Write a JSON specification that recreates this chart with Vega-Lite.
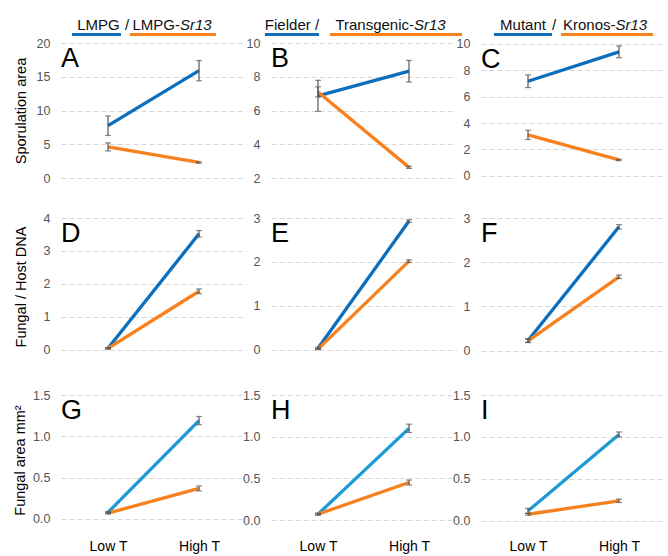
{
  "$schema": "https://vega.github.io/schema/vega-lite/v6.json",
  "padding": {"left": 12, "top": 18, "right": 2, "bottom": 2},
  "config": {
    "font": "Liberation Sans",
    "view": {"stroke": null},
    "axis": {"domain": false, "ticks": false, "tickSize": 0, "gridDash": [5, 3], "gridColor": "#d6d6d6", "labelColor": "#555555", "labelFontSize": 12.5, "labelPadding": 11, "titleFontSize": 14.5, "titleFontWeight": "normal", "titleColor": "#000000"},
    "title": {"fontSize": 27, "fontWeight": "normal", "anchor": "start", "frame": "group", "color": "#000000", "offset": -36, "baseline": "alphabetic"}
  },
  "datasets": {
    "d": [
      {"panel": "A", "group": "wt", "temp": "Low T", "mean": 7.75, "err": 1.45},
      {"panel": "A", "group": "wt", "temp": "High T", "mean": 15.9, "err": 1.5},
      {"panel": "A", "group": "mut", "temp": "Low T", "mean": 4.6, "err": 0.6},
      {"panel": "A", "group": "mut", "temp": "High T", "mean": 2.3, "err": 0.1},
      {"panel": "B", "group": "wt", "temp": "Low T", "mean": 6.87, "err": 0.92},
      {"panel": "B", "group": "wt", "temp": "High T", "mean": 8.33, "err": 0.64},
      {"panel": "B", "group": "mut", "temp": "Low T", "mean": 7.1, "err": 0.3},
      {"panel": "B", "group": "mut", "temp": "High T", "mean": 2.63, "err": 0.06},
      {"panel": "C", "group": "wt", "temp": "Low T", "mean": 7.17, "err": 0.48},
      {"panel": "C", "group": "wt", "temp": "High T", "mean": 9.4, "err": 0.45},
      {"panel": "C", "group": "mut", "temp": "Low T", "mean": 3.1, "err": 0.35},
      {"panel": "C", "group": "mut", "temp": "High T", "mean": 1.2, "err": 0.05},
      {"panel": "D", "group": "wt", "temp": "Low T", "mean": 0.05, "err": 0.02},
      {"panel": "D", "group": "wt", "temp": "High T", "mean": 3.52, "err": 0.1},
      {"panel": "D", "group": "mut", "temp": "Low T", "mean": 0.05, "err": 0.02},
      {"panel": "D", "group": "mut", "temp": "High T", "mean": 1.78, "err": 0.07},
      {"panel": "E", "group": "wt", "temp": "Low T", "mean": 0.04, "err": 0.02},
      {"panel": "E", "group": "wt", "temp": "High T", "mean": 2.93, "err": 0.03},
      {"panel": "E", "group": "mut", "temp": "Low T", "mean": 0.02, "err": 0.01},
      {"panel": "E", "group": "mut", "temp": "High T", "mean": 2.02, "err": 0.03},
      {"panel": "F", "group": "wt", "temp": "Low T", "mean": 0.23, "err": 0.04},
      {"panel": "F", "group": "wt", "temp": "High T", "mean": 2.8, "err": 0.05},
      {"panel": "F", "group": "mut", "temp": "Low T", "mean": 0.22, "err": 0.04},
      {"panel": "F", "group": "mut", "temp": "High T", "mean": 1.67, "err": 0.04},
      {"panel": "G", "group": "wt", "temp": "Low T", "mean": 0.08, "err": 0.01},
      {"panel": "G", "group": "wt", "temp": "High T", "mean": 1.19, "err": 0.05},
      {"panel": "G", "group": "mut", "temp": "Low T", "mean": 0.07, "err": 0.01},
      {"panel": "G", "group": "mut", "temp": "High T", "mean": 0.37, "err": 0.03},
      {"panel": "H", "group": "wt", "temp": "Low T", "mean": 0.07, "err": 0.01},
      {"panel": "H", "group": "wt", "temp": "High T", "mean": 1.1, "err": 0.05},
      {"panel": "H", "group": "mut", "temp": "Low T", "mean": 0.07, "err": 0.01},
      {"panel": "H", "group": "mut", "temp": "High T", "mean": 0.45, "err": 0.03},
      {"panel": "I", "group": "wt", "temp": "Low T", "mean": 0.12, "err": 0.03},
      {"panel": "I", "group": "wt", "temp": "High T", "mean": 1.03, "err": 0.03},
      {"panel": "I", "group": "mut", "temp": "Low T", "mean": 0.08, "err": 0.01},
      {"panel": "I", "group": "mut", "temp": "High T", "mean": 0.24, "err": 0.02}
    ]
  },
  "bounds": "flush",
  "spacing": 10,
  "vconcat": [
    {
      "bounds": "flush",
      "spacing": 25,
      "hconcat": [
        {
          "width": 185, "height": 3,
          "data": {"values": [{"role": "wt", "label": "LMPG", "sep": "/"}, {"role": "mut", "label": "LMPG-", "ital": "Sr13"}]},
          "encoding": {"x": {"field": "role", "type": "nominal", "sort": ["wt", "mut"], "scale": {"type": "point", "padding": 0.709, "align": 0.327}, "axis": null}},
          "layer": [
            {"transform": [{"filter": "datum.role === 'wt'"}], "mark": {"type": "bar", "width": 49, "color": "#0b6fbd"}},
            {"transform": [{"filter": "datum.role === 'mut'"}], "mark": {"type": "bar", "width": 86, "color": "#f7811f"}},
            {"transform": [{"filter": "datum.role === 'wt'"}], "mark": {"type": "text", "dx": 2, "dy": -4.5, "baseline": "alphabetic", "fontSize": 15, "color": "#111111"}, "encoding": {"text": {"field": "label"}}},
            {"transform": [{"filter": "datum.role === 'wt'"}], "mark": {"type": "text", "dx": 30.5, "dy": -4.5, "baseline": "alphabetic", "fontSize": 15, "color": "#111111"}, "encoding": {"text": {"field": "sep"}}},
            {"transform": [{"filter": "datum.role === 'mut'"}], "mark": {"type": "text", "align": "right", "dx": 7, "dy": -4.5, "baseline": "alphabetic", "fontSize": 15, "color": "#111111"}, "encoding": {"text": {"field": "label"}}},
            {"transform": [{"filter": "datum.role === 'mut'"}], "mark": {"type": "text", "align": "left", "dx": 7, "dy": -4.5, "baseline": "alphabetic", "fontSize": 15, "fontStyle": "italic", "color": "#111111"}, "encoding": {"text": {"field": "ital"}}}
          ]
        },
        {
          "width": 185, "height": 3,
          "data": {"values": [{"role": "wt", "label": "Fielder /"}, {"role": "mut", "label": "Transgenic-", "ital": "Sr13"}]},
          "encoding": {"x": {"field": "role", "type": "nominal", "sort": ["wt", "mut"], "scale": {"type": "point", "padding": 0.389, "align": 0.259}, "axis": null}},
          "layer": [
            {"transform": [{"filter": "datum.role === 'wt'"}], "mark": {"type": "bar", "width": 54, "color": "#0b6fbd"}},
            {"transform": [{"filter": "datum.role === 'mut'"}], "mark": {"type": "bar", "width": 132, "color": "#f7811f"}},
            {"transform": [{"filter": "datum.role === 'wt'"}], "mark": {"type": "text", "dx": 0, "dy": -4.5, "baseline": "alphabetic", "fontSize": 15, "color": "#111111"}, "encoding": {"text": {"field": "label"}}},
            {"transform": [{"filter": "datum.role === 'mut'"}], "mark": {"type": "text", "align": "right", "dx": 18, "dy": -4.5, "baseline": "alphabetic", "fontSize": 15, "color": "#111111"}, "encoding": {"text": {"field": "label"}}},
            {"transform": [{"filter": "datum.role === 'mut'"}], "mark": {"type": "text", "align": "left", "dx": 18, "dy": -4.5, "baseline": "alphabetic", "fontSize": 15, "fontStyle": "italic", "color": "#111111"}, "encoding": {"text": {"field": "ital"}}}
          ]
        },
        {
          "width": 185, "height": 3,
          "data": {"values": [{"role": "wt", "label": "Mutant", "sep": "/"}, {"role": "mut", "label": "Kronos-", "ital": "Sr13"}]},
          "encoding": {"x": {"field": "role", "type": "nominal", "sort": ["wt", "mut"], "scale": {"type": "point", "padding": 0.601, "align": 0.416}, "axis": null}},
          "layer": [
            {"transform": [{"filter": "datum.role === 'wt'"}], "mark": {"type": "bar", "width": 58, "color": "#0b6fbd"}},
            {"transform": [{"filter": "datum.role === 'mut'"}], "mark": {"type": "bar", "width": 92, "color": "#f7811f"}},
            {"transform": [{"filter": "datum.role === 'wt'"}], "mark": {"type": "text", "dx": 0, "dy": -4.5, "baseline": "alphabetic", "fontSize": 15, "color": "#111111"}, "encoding": {"text": {"field": "label"}}},
            {"transform": [{"filter": "datum.role === 'wt'"}], "mark": {"type": "text", "dx": 31, "dy": -4.5, "baseline": "alphabetic", "fontSize": 15, "color": "#111111"}, "encoding": {"text": {"field": "sep"}}},
            {"transform": [{"filter": "datum.role === 'mut'"}], "mark": {"type": "text", "align": "right", "dx": 8.5, "dy": -4.5, "baseline": "alphabetic", "fontSize": 15, "color": "#111111"}, "encoding": {"text": {"field": "label"}}},
            {"transform": [{"filter": "datum.role === 'mut'"}], "mark": {"type": "text", "align": "left", "dx": 8.5, "dy": -4.5, "baseline": "alphabetic", "fontSize": 15, "fontStyle": "italic", "color": "#111111"}, "encoding": {"text": {"field": "ital"}}}
          ]
        }
      ]
    },
    {
      "bounds": "flush",
      "columns": 3,
      "spacing": {"row": 40, "column": 25},
      "resolve": {"scale": {"x": "independent", "y": "independent", "color": "independent"}},
      "data": {"name": "d"},
      "concat": [
        {
          "width": 185, "height": 135, "title": {"text": "A"},
          "transform": [{"filter": "datum.panel === 'A'"}],
          "encoding": {
            "x": {"field": "temp", "type": "nominal", "sort": ["Low T", "High T"], "scale": {"type": "point", "padding": 0.5165}, "axis": null},
            "y": {"field": "mean", "type": "quantitative", "scale": {"domain": [0, 20], "nice": false, "zero": false}, "axis": {"values": [0, 5, 10, 15, 20], "title": "Sporulation area", "titlePadding": 8}}
          },
          "layer": [
            {"mark": {"type": "line", "strokeWidth": 3.3}, "encoding": {"color": {"field": "group", "type": "nominal", "scale": {"domain": ["wt", "mut"], "range": ["#0b6fbd", "#f7811f"]}, "legend": null}}},
            {"mark": {"type": "errorbar", "ticks": true, "size": 6, "thickness": 1.2, "color": "#555555"}, "encoding": {"yError": {"field": "err"}}}
          ]
        },
        {
          "width": 185, "height": 135, "title": {"text": "B"},
          "transform": [{"filter": "datum.panel === 'B'"}],
          "encoding": {
            "x": {"field": "temp", "type": "nominal", "sort": ["Low T", "High T"], "scale": {"type": "point", "padding": 0.5165}, "axis": null},
            "y": {"field": "mean", "type": "quantitative", "scale": {"domain": [2, 10], "nice": false, "zero": false}, "axis": {"values": [2, 4, 6, 8, 10], "title": null}}
          },
          "layer": [
            {"mark": {"type": "line", "strokeWidth": 3.3}, "encoding": {"color": {"field": "group", "type": "nominal", "scale": {"domain": ["wt", "mut"], "range": ["#0b6fbd", "#f7811f"]}, "legend": null}}},
            {"mark": {"type": "errorbar", "ticks": true, "size": 6, "thickness": 1.2, "color": "#555555"}, "encoding": {"yError": {"field": "err"}}}
          ]
        },
        {
          "width": 185, "height": 135, "title": {"text": "C"},
          "transform": [{"filter": "datum.panel === 'C'"}],
          "encoding": {
            "x": {"field": "temp", "type": "nominal", "sort": ["Low T", "High T"], "scale": {"type": "point", "padding": 0.5165}, "axis": null},
            "y": {"field": "mean", "type": "quantitative", "scale": {"domain": [-0.17, 10.07], "nice": false, "zero": false}, "axis": {"values": [0, 2, 4, 6, 8, 10], "title": null}}
          },
          "layer": [
            {"mark": {"type": "line", "strokeWidth": 3.3}, "encoding": {"color": {"field": "group", "type": "nominal", "scale": {"domain": ["wt", "mut"], "range": ["#0b6fbd", "#f7811f"]}, "legend": null}}},
            {"mark": {"type": "errorbar", "ticks": true, "size": 6, "thickness": 1.2, "color": "#555555"}, "encoding": {"yError": {"field": "err"}}}
          ]
        },
        {
          "width": 185, "height": 137, "title": {"text": "D"},
          "transform": [{"filter": "datum.panel === 'D'"}],
          "encoding": {
            "x": {"field": "temp", "type": "nominal", "sort": ["Low T", "High T"], "scale": {"type": "point", "padding": 0.5165}, "axis": null},
            "y": {"field": "mean", "type": "quantitative", "scale": {"domain": [-0.152, 4], "nice": false, "zero": false}, "axis": {"values": [0, 1, 2, 3, 4], "title": "Fungal / Host DNA", "titlePadding": 15}}
          },
          "layer": [
            {"mark": {"type": "line", "strokeWidth": 3.3}, "encoding": {"color": {"field": "group", "type": "nominal", "scale": {"domain": ["wt", "mut"], "range": ["#0b6fbd", "#f7811f"]}, "legend": null}}},
            {"mark": {"type": "errorbar", "ticks": true, "size": 6, "thickness": 1.2, "color": "#555555"}, "encoding": {"yError": {"field": "err"}}}
          ]
        },
        {
          "width": 185, "height": 137, "title": {"text": "E"},
          "transform": [{"filter": "datum.panel === 'E'"}],
          "encoding": {
            "x": {"field": "temp", "type": "nominal", "sort": ["Low T", "High T"], "scale": {"type": "point", "padding": 0.5165}, "axis": null},
            "y": {"field": "mean", "type": "quantitative", "scale": {"domain": [-0.114, 3], "nice": false, "zero": false}, "axis": {"values": [0, 1, 2, 3], "title": null}}
          },
          "layer": [
            {"mark": {"type": "line", "strokeWidth": 3.3}, "encoding": {"color": {"field": "group", "type": "nominal", "scale": {"domain": ["wt", "mut"], "range": ["#0b6fbd", "#f7811f"]}, "legend": null}}},
            {"mark": {"type": "errorbar", "ticks": true, "size": 6, "thickness": 1.2, "color": "#555555"}, "encoding": {"yError": {"field": "err"}}}
          ]
        },
        {
          "width": 185, "height": 137, "title": {"text": "F"},
          "transform": [{"filter": "datum.panel === 'F'"}],
          "encoding": {
            "x": {"field": "temp", "type": "nominal", "sort": ["Low T", "High T"], "scale": {"type": "point", "padding": 0.5165}, "axis": null},
            "y": {"field": "mean", "type": "quantitative", "scale": {"domain": [-0.1, 3], "nice": false, "zero": false}, "axis": {"values": [0, 1, 2, 3], "title": null}}
          },
          "layer": [
            {"mark": {"type": "line", "strokeWidth": 3.3}, "encoding": {"color": {"field": "group", "type": "nominal", "scale": {"domain": ["wt", "mut"], "range": ["#0b6fbd", "#f7811f"]}, "legend": null}}},
            {"mark": {"type": "errorbar", "ticks": true, "size": 6, "thickness": 1.2, "color": "#555555"}, "encoding": {"yError": {"field": "err"}}}
          ]
        },
        {
          "width": 185, "height": 130, "title": {"text": "G"},
          "transform": [{"filter": "datum.panel === 'G'"}],
          "encoding": {
            "x": {"field": "temp", "type": "nominal", "sort": ["Low T", "High T"], "scale": {"type": "point", "padding": 0.5165}, "axis": {"title": null, "labelFontSize": 14, "labelColor": "#000000", "labelPadding": 14, "labelAngle": 0, "grid": false}},
            "y": {"field": "mean", "type": "quantitative", "scale": {"domain": [-0.073, 1.5], "nice": false, "zero": false}, "axis": {"values": [0, 0.5, 1, 1.5], "format": ".1f", "title": "Fungal area mm²", "titlePadding": 5}}
          },
          "layer": [
            {"mark": {"type": "line", "strokeWidth": 3.3}, "encoding": {"color": {"field": "group", "type": "nominal", "scale": {"domain": ["wt", "mut"], "range": ["#1c9ad6", "#f7811f"]}, "legend": null}}},
            {"mark": {"type": "errorbar", "ticks": true, "size": 6, "thickness": 1.2, "color": "#555555"}, "encoding": {"yError": {"field": "err"}}}
          ]
        },
        {
          "width": 185, "height": 130, "title": {"text": "H"},
          "transform": [{"filter": "datum.panel === 'H'"}],
          "encoding": {
            "x": {"field": "temp", "type": "nominal", "sort": ["Low T", "High T"], "scale": {"type": "point", "padding": 0.5165}, "axis": {"title": null, "labelFontSize": 14, "labelColor": "#000000", "labelPadding": 14, "labelAngle": 0, "grid": false}},
            "y": {"field": "mean", "type": "quantitative", "scale": {"domain": [-0.06, 1.5], "nice": false, "zero": false}, "axis": {"values": [0, 0.5, 1, 1.5], "format": ".1f", "title": null}}
          },
          "layer": [
            {"mark": {"type": "line", "strokeWidth": 3.3}, "encoding": {"color": {"field": "group", "type": "nominal", "scale": {"domain": ["wt", "mut"], "range": ["#1c9ad6", "#f7811f"]}, "legend": null}}},
            {"mark": {"type": "errorbar", "ticks": true, "size": 6, "thickness": 1.2, "color": "#555555"}, "encoding": {"yError": {"field": "err"}}}
          ]
        },
        {
          "width": 185, "height": 130, "title": {"text": "I"},
          "transform": [{"filter": "datum.panel === 'I'"}],
          "encoding": {
            "x": {"field": "temp", "type": "nominal", "sort": ["Low T", "High T"], "scale": {"type": "point", "padding": 0.5165}, "axis": {"title": null, "labelFontSize": 14, "labelColor": "#000000", "labelPadding": 14, "labelAngle": 0, "grid": false}},
            "y": {"field": "mean", "type": "quantitative", "scale": {"domain": [-0.048, 1.5], "nice": false, "zero": false}, "axis": {"values": [0, 0.5, 1, 1.5], "format": ".1f", "title": null}}
          },
          "layer": [
            {"mark": {"type": "line", "strokeWidth": 3.3}, "encoding": {"color": {"field": "group", "type": "nominal", "scale": {"domain": ["wt", "mut"], "range": ["#1c9ad6", "#f7811f"]}, "legend": null}}},
            {"mark": {"type": "errorbar", "ticks": true, "size": 6, "thickness": 1.2, "color": "#555555"}, "encoding": {"yError": {"field": "err"}}}
          ]
        }
      ]
    }
  ]
}
